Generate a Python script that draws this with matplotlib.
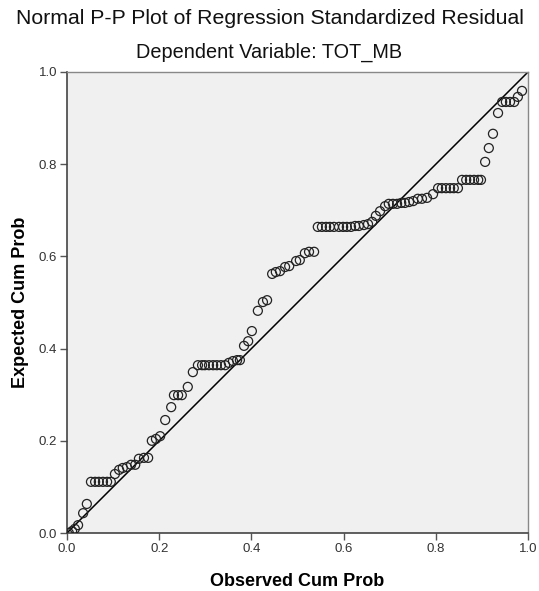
import matplotlib
matplotlib.use("Agg")
import matplotlib.pyplot as plt

plt.rcParams['font.family'] = ['Liberation Sans', 'DejaVu Sans']

# Observed vs expected cumulative probabilities
observed = [
    0.004, 0.011, 0.017, 0.024, 0.035, 0.043,
    0.052, 0.061, 0.069, 0.078, 0.087, 0.095,
    0.104, 0.113, 0.121, 0.130, 0.139, 0.148, 0.156, 0.167, 0.176,
    0.184, 0.193, 0.202, 0.213, 0.226, 0.232, 0.241, 0.249, 0.262, 0.273,
    0.284, 0.293, 0.299, 0.308, 0.317, 0.325, 0.334, 0.343, 0.351, 0.360, 0.369, 0.375,
    0.384, 0.393, 0.401, 0.414, 0.425, 0.434, 0.445, 0.453, 0.462, 0.473, 0.482,
    0.497, 0.505, 0.516, 0.525, 0.536,
    0.544, 0.553, 0.562, 0.570, 0.579, 0.590, 0.599, 0.607, 0.616, 0.625, 0.633, 0.644, 0.653,
    0.662, 0.670, 0.679, 0.690,
    0.698, 0.707, 0.716, 0.725, 0.733, 0.742,
    0.751, 0.761, 0.770, 0.781, 0.794,
    0.805, 0.813, 0.822, 0.831, 0.839, 0.848,
    0.857, 0.866, 0.874, 0.883, 0.892, 0.898,
    0.907, 0.915, 0.924, 0.935,
    0.944, 0.952, 0.961, 0.970, 0.978, 0.987,
]
expected = [
    0.000, 0.004, 0.009, 0.017, 0.043, 0.063,
    0.111, 0.111, 0.111, 0.111, 0.111, 0.111,
    0.128, 0.137, 0.141, 0.143, 0.148, 0.148, 0.161, 0.163, 0.163,
    0.200, 0.204, 0.210, 0.245, 0.273, 0.299, 0.299, 0.299, 0.317, 0.349,
    0.364, 0.364, 0.364, 0.364, 0.364, 0.364, 0.364, 0.364, 0.369, 0.373, 0.375, 0.375,
    0.406, 0.416, 0.438, 0.482, 0.501, 0.505, 0.562, 0.566, 0.568, 0.577, 0.579,
    0.590, 0.592, 0.607, 0.610, 0.610,
    0.664, 0.664, 0.664, 0.664, 0.664, 0.664, 0.664, 0.664, 0.664, 0.666, 0.666, 0.668, 0.670,
    0.675, 0.688, 0.698, 0.709,
    0.714, 0.714, 0.714, 0.716, 0.716, 0.718,
    0.720, 0.725, 0.725, 0.727, 0.735,
    0.748, 0.748, 0.748, 0.748, 0.748, 0.748,
    0.766, 0.766, 0.766, 0.766, 0.766, 0.766,
    0.805, 0.835, 0.866, 0.911,
    0.935, 0.935, 0.935, 0.935, 0.946, 0.959,
]
ticks = [0.0, 0.2, 0.4, 0.6, 0.8, 1.0]
tick_labels = ['0.0', '0.2', '0.4', '0.6', '0.8', '1.0']

fig = plt.figure(figsize=(5.39, 5.91), dpi=100)
ax = fig.add_axes([67 / 539, 58 / 591, 461 / 539, 461 / 591])
ax.set_facecolor('#f0f0f0')

ax.plot([0, 1], [0, 1], color='black', lw=1.1, zorder=2)
ax.scatter(observed, expected, s=42, facecolors='none', edgecolors='#222222',
           linewidths=0.9, zorder=3)

ax.set_xlim(0, 1)
ax.set_ylim(0, 1)
ax.set_xticks(ticks)
ax.set_xticklabels(tick_labels)
ax.set_yticks(ticks)
ax.set_yticklabels(tick_labels)
ax.tick_params(direction='out', length=5, width=1, pad=2, colors='#555555',
               labelcolor='#333333', labelsize=9.5)

for side in ['left', 'bottom']:
    ax.spines[side].set_color('#444444')
    ax.spines[side].set_linewidth(1.2)
for side in ['top', 'right']:
    ax.spines[side].set_color('#888888')
    ax.spines[side].set_linewidth(1.0)

ax.set_xlabel('Observed Cum Prob', fontsize=13, fontweight='bold', labelpad=13)
ax.set_ylabel('Expected Cum Prob', fontsize=13, fontweight='bold', labelpad=7)

fig.text(0.5, 1 - 19 / 591, 'Normal P-P Plot of Regression Standardized Residual',
         ha='center', va='center', fontsize=15.3, color='#111111')
fig.text(0.5, 1 - 52 / 591, 'Dependent Variable: TOT_MB',
         ha='center', va='center', fontsize=14.3, color='#111111')

fig.savefig('out.png', dpi=100)
